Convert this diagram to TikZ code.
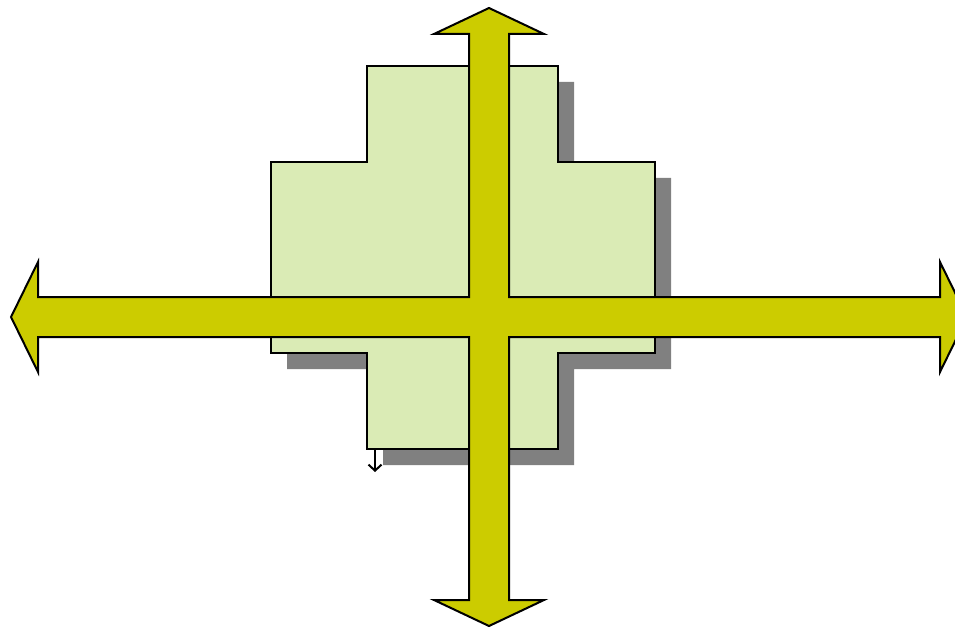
\documentclass[tikz,border=0pt]{standalone}
\usetikzlibrary{arrows.meta}
\definecolor{lightgreen}{HTML}{DAEBB5}
\definecolor{arrowyellow}{HTML}{CCCC00}
\definecolor{shadowgray}{HTML}{808080}
\tikzset{
  crossshape/.style={fill=lightgreen, draw=black, line width=1.5pt, line join=miter},
  shadowshape/.style={fill=shadowgray},
  bigarrow/.style={fill=arrowyellow, draw=black, line width=2pt, line join=miter},
  smallarrow/.style={draw=black, line width=1.6pt, -{Straight Barb[length=6pt,width=13pt,line width=2pt]}}
}
\begin{document}
\begin{tikzpicture}[x=1pt,y=-1pt]
\useasboundingbox (0,0) rectangle (955,628);
\clip (0,0) rectangle (955,628);
% shadow
\begin{scope}[shift={(16,16)}]
\fill[shadowshape] (367,66) -- (558,66) -- (558,162) -- (655,162) -- (655,353) -- (558,353) -- (558,449) -- (367,449) -- (367,353) -- (271,353) -- (271,162) -- (367,162) -- cycle;
\end{scope}
% green cross
\draw[crossshape] (367,66) -- (558,66) -- (558,162) -- (655,162) -- (655,353) -- (558,353) -- (558,449) -- (367,449) -- (367,353) -- (271,353) -- (271,162) -- (367,162) -- cycle;
% small arrow
\coordinate (sa) at (375,450);
\coordinate (sb) at (375,472);
\draw[smallarrow] (sa) -- (sb);
% yellow four-way arrow
\draw[bigarrow] (489,8) -- (544,34) -- (509,34) -- (509,297) -- (940,297) -- (940,262) -- (967,317) -- (940,372) -- (940,337) -- (509,337) -- (509,600) -- (544,600) -- (489,626) -- (434,600) -- (469,600) -- (469,337) -- (38,337) -- (38,372) -- (11,317) -- (38,262) -- (38,297) -- (469,297) -- (469,34) -- (434,34) -- cycle;
\end{tikzpicture}
\end{document}
